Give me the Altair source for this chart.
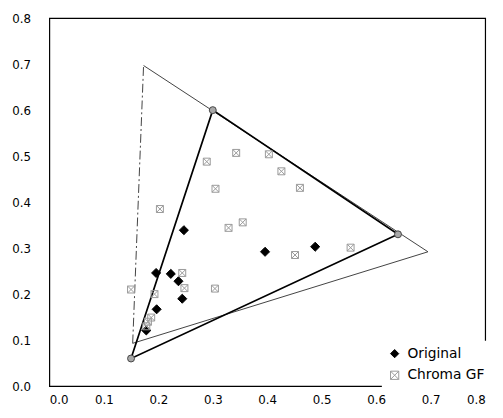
import altair as alt
import pandas as pd

# Original (black diamonds)
orig_x = [0.247, 0.396, 0.488, 0.196, 0.223, 0.237, 0.244, 0.197, 0.178]
orig_y = [0.339, 0.292, 0.303, 0.246, 0.244, 0.228, 0.190, 0.167, 0.121]

# Chroma GF (gray box-cross markers)
gf_x = [0.343, 0.403, 0.289, 0.426, 0.460, 0.305, 0.203, 0.355, 0.329, 0.553,
        0.451, 0.244, 0.248, 0.304, 0.150, 0.193, 0.187, 0.181, 0.178]
gf_y = [0.507, 0.504, 0.488, 0.467, 0.431, 0.429, 0.385, 0.356, 0.344, 0.301,
        0.285, 0.246, 0.213, 0.212, 0.210, 0.200, 0.149, 0.140, 0.130]

# sRGB gamut triangle (solid, with vertex circles)
srgb_x = [0.64, 0.30, 0.15, 0.64]
srgb_y = [0.33, 0.60, 0.06, 0.33]

# wider gamut triangle (thin)
wide_x = [0.173, 0.695, 0.153]
wide_y = [0.697, 0.292, 0.093]
wide_left_x = [0.153, 0.173]
wide_left_y = [0.093, 0.697]

ticks = [0.0, 0.1, 0.2, 0.3, 0.4, 0.5, 0.6, 0.7, 0.8]
series_names = ["Original", "Chroma GF"]

pts = pd.DataFrame(
    {"x": orig_x + gf_x,
     "y": orig_y + gf_y,
     "series": ["Original"] * len(orig_x) + ["Chroma GF"] * len(gf_x)}
)
srgb = pd.DataFrame({"x": srgb_x, "y": srgb_y, "o": list(range(len(srgb_x)))})
wide = pd.DataFrame({"x": wide_x, "y": wide_y, "o": list(range(len(wide_x)))})
wide_left = pd.DataFrame({"x": wide_left_x, "y": wide_left_y, "o": list(range(len(wide_left_x)))})
verts = pd.DataFrame({"x": srgb_x[:3], "y": srgb_y[:3]})

xs = alt.Scale(domain=[0, 0.8], nice=False, zero=False)
ys = alt.Scale(domain=[0, 0.8], nice=False, zero=False)
xax = alt.Axis(values=ticks, format=".1f", title=None, ticks=False, domain=False,
               grid=False, labelPadding=9, labelFontSize=12, labelFont="DejaVu Sans",
               labelColor="black")
yax = alt.Axis(values=ticks, format=".1f", title=None, ticks=False, domain=False,
               grid=False, labelPadding=19, labelFontSize=12, labelFont="DejaVu Sans",
               labelColor="black")

def X():
    return alt.X("x:Q", scale=xs, axis=xax)

def Y():
    return alt.Y("y:Q", scale=ys, axis=yax)

wide_line = alt.Chart(wide).mark_line(color="#404040", strokeWidth=1).encode(
    x=X(), y=Y(), order="o:O")
wide_left_line = alt.Chart(wide_left).mark_line(
    color="#404040", strokeWidth=1, strokeDash=[9, 3, 2, 3]).encode(
    x=X(), y=Y(), order="o:O")
srgb_line = alt.Chart(srgb).mark_line(color="black", strokeWidth=1.7).encode(
    x=X(), y=Y(), order="o:O")
vert_pts = alt.Chart(verts).mark_point(
    shape="circle", size=50, filled=True, fill="#a8a8a8", stroke="#444444",
    strokeWidth=1, opacity=1).encode(x=X(), y=Y())

gf_path = "M-1,-1H1V1H-1Z M-1,-1L1,1 M1,-1L-1,1"

legend = alt.Legend(
    title=None, orient="none", legendX=338, legendY=328, fillColor="white",
    padding=6, labelFont="DejaVu Sans", labelFontSize=14, labelColor="black",
    labelOffset=6, rowPadding=8, symbolSize=70, symbolStrokeWidth=1)

scatter = alt.Chart(pts).mark_point(opacity=1, strokeWidth=1).encode(
    x=X(), y=Y(),
    shape=alt.Shape("series:N", sort=series_names,
                    scale=alt.Scale(domain=series_names, range=["diamond", gf_path]),
                    legend=legend),
    fill=alt.Fill("series:N", sort=series_names,
                  scale=alt.Scale(domain=series_names, range=["black", "transparent"]),
                  legend=legend),
    stroke=alt.Stroke("series:N", sort=series_names,
                      scale=alt.Scale(domain=series_names, range=["black", "#999999"]),
                      legend=legend),
    size=alt.condition(alt.datum.series == "Original", alt.value(85), alt.value(50)),
)

chart = alt.layer(wide_line, wide_left_line, srgb_line, vert_pts, scatter).properties(
    width=443, height=374,
    padding={"left": 42, "top": 7, "right": 10, "bottom": 22},
    autosize="none",
    background="white",
).configure_view(stroke="black", strokeWidth=1.2)

chart.save("out.html", embed_options={"renderer": "svg", "actions": False})
